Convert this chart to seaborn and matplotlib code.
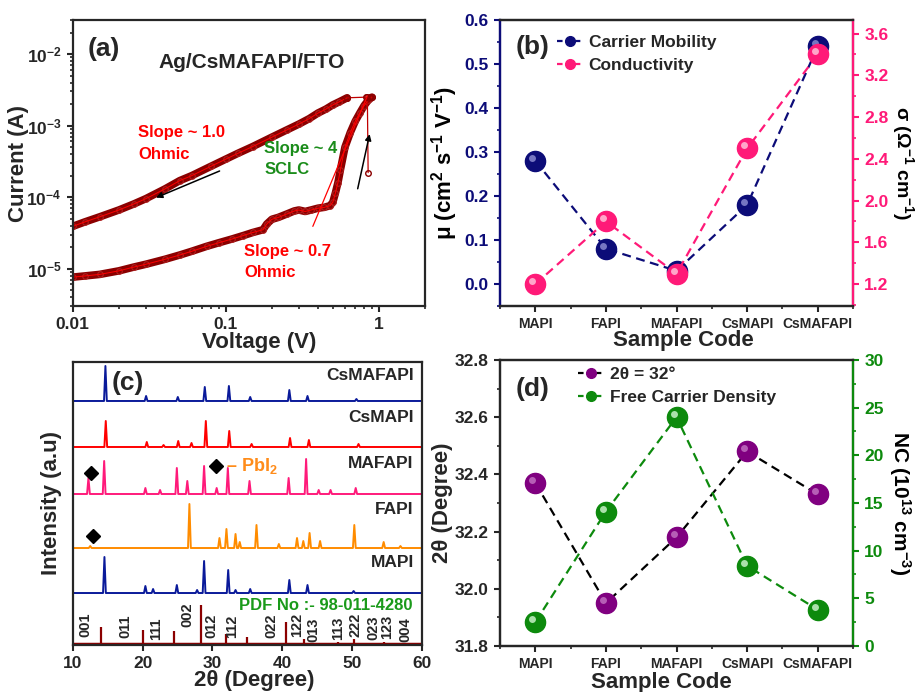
import numpy as np
import matplotlib
matplotlib.use("Agg")
import matplotlib.pyplot as plt
import matplotlib.ticker as mticker
from matplotlib.lines import Line2D
from matplotlib.transforms import offset_copy
import seaborn as sns

# ---------------- (a) I-V curve, Ag/CsMAFAPI/FTO ----------------
fwd_v = [0.01, 0.012, 0.015, 0.02, 0.025, 0.03, 0.04, 0.05, 0.06, 0.075, 0.09, 0.11,
         0.13, 0.15, 0.175, 0.185, 0.2, 0.22, 0.25, 0.28, 0.3, 0.33, 0.36, 0.4, 0.44,
         0.48, 0.5, 0.52, 0.54, 0.56, 0.6, 0.65, 0.7, 0.75, 0.8, 0.85, 0.9]
fwd_i = [7.6e-6, 7.9e-6, 8.3e-6, 9.3e-6, 1.05e-5, 1.15e-5, 1.35e-5, 1.55e-5, 1.75e-5,
         2.05e-5, 2.3e-5, 2.6e-5, 2.9e-5, 3.2e-5, 3.5e-5, 4.2e-5, 4.9e-5, 5.2e-5, 5.8e-5,
         6.4e-5, 6.6e-5, 6.3e-5, 6.6e-5, 7.0e-5, 7.2e-5, 7.6e-5, 8.5e-5, 1.15e-4, 1.6e-4,
         2.4e-4, 5.0e-4, 8.0e-4, 1.15e-3, 1.5e-3, 1.9e-3, 2.25e-3, 2.5e-3]
rev_v = [0.62, 0.55, 0.5, 0.45, 0.4, 0.35, 0.3, 0.25, 0.2, 0.15, 0.12, 0.1, 0.08, 0.06,
         0.05, 0.04, 0.03, 0.025, 0.02, 0.015, 0.012, 0.01]
rev_i = [2.45e-3, 2.15e-3, 1.95e-3, 1.7e-3, 1.5e-3, 1.25e-3, 1.05e-3, 8.7e-4, 6.9e-4,
         5.1e-4, 4.1e-4, 3.4e-4, 2.7e-4, 2.0e-4, 1.7e-4, 1.3e-4, 9.5e-5, 8.0e-5, 6.6e-5,
         5.3e-5, 4.5e-5, 3.9e-5]
start_v = [0.85, 0.84]
start_i = [2.2e-4, 2.5e-3]
top_v = [0.62, 0.82, 0.87, 0.9]
top_i = [2.45e-3, 2.5e-3, 2.5e-3, 2.5e-3]
sclc_fit_v = [0.37, 0.84]
sclc_fit_i = [3.9e-5, 2.6e-3]

# ---------------- (b) / (d) per-sample values ----------------
samples = ["MAPI", "FAPI", "MAFAPI", "CsMAPI", "CsMAFAPI"]
mobility = [0.28, 0.08, 0.03, 0.18, 0.54]
conductivity = [1.2, 1.8, 1.3, 2.5, 3.4]
two_theta = [32.37, 31.95, 32.18, 32.48, 32.33]
carrier_density = [2.5, 14.1, 24.0, 8.4, 3.8]

# ---------------- (c) XRD peaks: 2theta and height ----------------
mapi_pos = [14.54, 20.4, 21.5, 24.9, 27.8, 28.8, 32.25, 33.3, 35.4, 41.0, 43.6, 50.2]
mapi_h = [36, 7, 4, 8, 3, 32, 23, 3, 4, 13, 8, 2]
fapi_pos = [12.5, 26.7, 31.0, 32.0, 33.3, 33.9, 36.3, 39.5, 42.1, 43.0, 43.9, 45.4, 50.3, 54.5, 56.9]
fapi_h = [2, 44, 10, 19, 14, 6, 23, 4, 10, 7, 15, 7, 23, 6, 2]
mafapi_pos = [12.25, 14.5, 20.4, 22.5, 24.9, 26.4, 28.8, 30.6, 32.2, 35.3, 40.9, 43.4, 45.2, 46.9, 50.5]
mafapi_h = [16, 33, 6, 4, 26, 13, 28, 6, 26, 13, 16, 35, 4, 4, 6]
csmapi_pos = [14.73, 20.6, 23.0, 25.1, 27.0, 29.05, 32.4, 35.6, 41.1, 43.8, 50.9]
csmapi_h = [26, 5, 2, 6, 4, 26, 16, 3, 9, 7, 3]
csmafapi_pos = [14.68, 20.5, 25.04, 28.9, 32.35, 35.4, 41.0, 43.6, 50.6]
csmafapi_h = [35, 5, 4, 14, 15, 4, 11, 5, 2]
ref_pos = [14.0, 20.0, 24.5, 28.3, 31.9, 34.9, 40.5, 43.1, 45.5, 48.0, 50.2, 52.4, 54.6, 58.7]
ref_h = [18, 15, 14, 40, 11, 8, 23, 6, 2, 3, 6, 2, 3, 2]
hkl_labels = ["001", "011", "111", "002", "012", "112", "022", "122", "013", "113",
              "222", "023", "123", "004"]
hkl_pos = [11.8, 17.6, 22.0, 26.4, 29.9, 32.8, 38.5, 42.1, 44.4, 48.0, 50.4, 53.0, 55.0, 57.6]
hkl_bottom = [8, 7, 5, 18, 7, 7, 7, 8, 3, 5, 8, 5, 6, 3]
pbi2_pos = [12.6, 30.5, 12.95]
pbi2_y = [172, 179, 109]

sns.set_style("ticks")
plt.rcParams.update({
    "font.family": ["Liberation Sans", "DejaVu Sans"],
    "font.weight": "bold",
    "axes.labelweight": "bold",
    "axes.linewidth": 1.6,
    "mathtext.fontset": "custom",
    "mathtext.rm": "Liberation Sans:bold",
    "mathtext.it": "Liberation Sans:bold",
    "mathtext.bf": "Liberation Sans:bold",
    "mathtext.default": "rm",
    "xtick.direction": "out",
    "ytick.direction": "out",
})

NAVY = "#0c0c78"
PINK = "#ff1a78"
PURPLE = "#800080"
GREEN = "#0d8a0d"
DARKRED = "#8b0000"

fig = plt.figure(figsize=(9.17, 6.92), dpi=100)
ax_a = fig.add_axes([0.0793, 0.5578, 0.3842, 0.4133])
ax_b = fig.add_axes([0.5453, 0.5578, 0.3850, 0.4133])
ax_c = fig.add_axes([0.0793, 0.0679, 0.3810, 0.4090])
ax_d = fig.add_axes([0.5453, 0.0665, 0.3850, 0.4133])


def tick_style(ax, which_axis="both"):
    ax.tick_params(axis=which_axis, which="major", length=4.5, width=1.5, labelsize=12.5)
    ax.tick_params(axis=which_axis, which="minor", length=2.5, width=1.2)


def balls(ax, x, y, color, light):
    ax.plot(x, y, ls="none", marker="o", ms=14.5, color=color, mec=color, zorder=4)
    tr = offset_copy(ax.transData, fig=fig, x=-2.2, y=2.2, units="points")
    ax.plot(x, y, ls="none", marker="o", ms=5, color=light, mec="none",
            alpha=0.85, transform=tr, zorder=5)


def right_label(ax2, text, xcoord, size):
    # rotated 270 and anchored at its left edge
    ax2.set_ylabel(text, fontsize=size, rotation=270, color="black")
    ax2.yaxis.label.set_verticalalignment("bottom")
    ax2.yaxis.set_label_coords(xcoord, 0.5)


# ---------------- panel (a) ----------------
ax = ax_a
for v, i in ((fwd_v, fwd_i), (rev_v, rev_i)):
    sns.lineplot(x=v, y=i, ax=ax, color=DARKRED, lw=5.5, sort=False, estimator=None)
    ax.plot(v, i, ls="none", marker="o", ms=4, mfc="none", mec="#b02020", mew=0.8)
    ax.plot(v, i, color="red", lw=0.7)
ax.plot(start_v, start_i, color="#c00000", lw=0.9, marker="o", ms=4, mfc="none", mec=DARKRED)
ax.plot(top_v, top_i, color="#c00000", lw=0.9, marker="o", ms=4, mfc="none", mec=DARKRED)
ax.plot(sclc_fit_v, sclc_fit_i, color="red", lw=0.9)
ax.set_xscale("log")
ax.set_yscale("log")
ax.set_xlim(0.01, 2)
ax.set_ylim(3e-6, 3e-2)
ax.set_xticks([0.01, 0.1, 1])
ax.xaxis.set_major_formatter(mticker.FixedFormatter(["0.01", "0.1", "1"]))
ax.xaxis.set_minor_locator(mticker.LogLocator(subs=np.arange(2, 10)))
ax.xaxis.set_minor_formatter(mticker.NullFormatter())
ax.yaxis.set_minor_locator(mticker.LogLocator(subs=np.arange(2, 10)))
ax.yaxis.set_minor_formatter(mticker.NullFormatter())
tick_style(ax)
ax.annotate("", xy=(0.0337, 9.5e-5), xytext=(0.0946, 2.4e-4),
            arrowprops=dict(arrowstyle="-|>", color="black", lw=1.1, mutation_scale=9))
ax.annotate("", xy=(0.877, 8.3e-4), xytext=(0.72, 1.2e-4),
            arrowprops=dict(arrowstyle="-|>", color="black", lw=1.1, mutation_scale=9))
ax.text(0.042, 0.90, "(a)", transform=ax.transAxes, fontsize=19, va="center")
ax.text(0.243, 0.852, "Ag/CsMAFAPI/FTO", transform=ax.transAxes, fontsize=15, va="center")
ax.text(0.186, 0.607, "Slope ~ 1.0", transform=ax.transAxes, fontsize=12, color="red", va="center")
ax.text(0.186, 0.531, "Ohmic", transform=ax.transAxes, fontsize=12, color="red", va="center")
ax.text(0.544, 0.549, "Slope ~ 4", transform=ax.transAxes, fontsize=12, color="#1a8c1a", va="center")
ax.text(0.544, 0.478, "SCLC", transform=ax.transAxes, fontsize=12, color="#1a8c1a", va="center")
ax.text(0.486, 0.190, "Slope ~ 0.7", transform=ax.transAxes, fontsize=12, color="red", va="center")
ax.text(0.486, 0.117, "Ohmic", transform=ax.transAxes, fontsize=12, color="red", va="center")
ax.set_xlabel("Voltage (V)", fontsize=16)
ax.set_ylabel("Current (A)", fontsize=16)
ax.xaxis.set_label_coords(0.53, -0.09)
ax.yaxis.set_label_coords(-0.125, 0.5)

# ---------------- panel (b) ----------------
xpos = np.arange(len(samples))
ax = ax_b
ax2 = ax.twinx()
ax.plot(xpos, mobility, color=NAVY, ls=(0, (4, 2.5)), lw=1.6)
balls(ax, xpos, mobility, NAVY, "#8a8ad0")
ax2.plot(xpos, conductivity, color=PINK, ls=(0, (4, 2.5)), lw=1.6)
balls(ax2, xpos, conductivity, PINK, "#ffc0d8")
ax.set_xlim(-0.5, 4.5)
ax.set_ylim(-0.05, 0.6)
ax2.set_ylim(0.99, 3.73)
ax.set_xticks(xpos)
ax.set_xticklabels(samples, fontsize=10)
ax.xaxis.set_minor_locator(mticker.FixedLocator(np.arange(-0.5, 5, 1.0)))
ax.yaxis.set_major_locator(mticker.MultipleLocator(0.1))
ax.yaxis.set_minor_locator(mticker.MultipleLocator(0.05))
ax.yaxis.set_major_formatter(mticker.FormatStrFormatter("%.1f"))
ax2.yaxis.set_major_locator(mticker.MultipleLocator(0.4))
ax2.yaxis.set_minor_locator(mticker.MultipleLocator(0.2))
ax2.yaxis.set_major_formatter(mticker.FormatStrFormatter("%.1f"))
tick_style(ax)
tick_style(ax2)
ax.tick_params(axis="x", labelsize=10)
ax.tick_params(axis="y", which="both", colors=NAVY)
ax2.tick_params(axis="y", which="both", colors=PINK)
ax2.spines["left"].set_color(NAVY)
ax2.spines["right"].set_color(PINK)
ax.spines["left"].set_color(NAVY)
ax.set_xlabel("Sample Code", fontsize=16)
ax.set_ylabel("μ (cm$^{2}$ s$^{-1}$ V$^{-1}$)", fontsize=16, color="black")
right_label(ax2, "σ (Ω$^{-1}$ cm$^{-1}$)", 1.105, 14)
ax.xaxis.set_label_coords(0.52, -0.085)
ax.yaxis.set_label_coords(-0.113, 0.5)
ax.text(0.043, 0.907, "(b)", transform=ax.transAxes, fontsize=19, va="center")
handles = [Line2D([], [], color=NAVY, ls=(0, (2.5, 1.5)), marker="o", ms=7, lw=1.6),
           Line2D([], [], color=PINK, ls=(0, (2.5, 1.5)), marker="o", ms=7, lw=1.6)]
ax2.legend(handles, ["Carrier Mobility", "Conductivity"], loc="upper left",
           bbox_to_anchor=(0.16, 0.948), frameon=False, fontsize=12.5, handlelength=1.5,
           handletextpad=0.35, labelspacing=0.45, borderpad=0, borderaxespad=0)

# ---------------- panel (c) ----------------
ax = ax_c


def trace(pos, height):
    xs, ys = [10.0], [0.0]
    for p, h in sorted(zip(pos, height)):
        xs += [p - 0.2, p, p + 0.2]
        ys += [0.0, h, 0.0]
    xs.append(60.0)
    ys.append(0.0)
    return np.array(xs), np.array(ys)


xrd_sets = [("MAPI", mapi_pos, mapi_h, "#0a1a9a", 52, 83),
            ("FAPI", fapi_pos, fapi_h, "#ff8c00", 97, 135),
            ("MAFAPI", mafapi_pos, mafapi_h, "#ff1a7a", 151, 181),
            ("CsMAPI", csmapi_pos, csmapi_h, "#ff0000", 198, 227),
            ("CsMAFAPI", csmafapi_pos, csmafapi_h, "#0a1a9a", 244, 269)]
for name, pos, h, col, base, ylab in xrd_sets:
    xs, ys = trace(pos, h)
    sns.lineplot(x=xs, y=ys + base, ax=ax, color=col, lw=1.4, sort=False, estimator=None)
    ax.text(58.8, ylab, name, ha="right", va="center", fontsize=12.5)
ax.vlines(ref_pos, 0, ref_h, color=DARKRED, lw=1.6)
ax.axhline(1.0, color=DARKRED, lw=2.5)
for lab, p, b in zip(hkl_labels, hkl_pos, hkl_bottom):
    ax.text(p, b, lab, rotation=90, ha="center", va="bottom", fontsize=10.5)
ax.plot(pbi2_pos, pbi2_y, ls="none", marker="D", ms=7.5, color="black")
ax.text(31.9, 179, "– PbI$_2$", color="#ff8c1a", fontsize=13, va="center")
ax.text(58.6, 40, "PDF No :- 98-011-4280", color="#1a9a1a", fontsize=12, ha="right", va="center")
ax.text(15.6, 262, "(c)", fontsize=19, va="center")
ax.set_xlim(10, 60)
ax.set_ylim(0, 283)
ax.set_yticks([])
ax.set_xticks([10, 20, 30, 40, 50, 60])
tick_style(ax, "x")
ax.set_xlabel("2θ (Degree)", fontsize=16)
ax.set_ylabel("Intensity (a.u)", fontsize=16)
ax.xaxis.set_label_coords(0.52, -0.088)
ax.yaxis.set_label_coords(-0.031, 0.5)

# ---------------- panel (d) ----------------
ax = ax_d
ax2 = ax.twinx()
ax.plot(xpos, two_theta, color="black", ls=(0, (4, 2.5)), lw=1.6)
balls(ax, xpos, two_theta, PURPLE, "#c070c0")
ax2.plot(xpos, carrier_density, color=GREEN, ls=(0, (4, 2.5)), lw=1.6)
balls(ax2, xpos, carrier_density, GREEN, "#c8f0c8")
ax.set_xlim(-0.5, 4.5)
ax.set_ylim(31.8, 32.8)
ax2.set_ylim(0, 30)
ax.set_xticks(xpos)
ax.set_xticklabels(samples, fontsize=10)
ax.xaxis.set_minor_locator(mticker.FixedLocator(np.arange(-0.5, 5, 1.0)))
ax.yaxis.set_major_locator(mticker.MultipleLocator(0.2))
ax.yaxis.set_minor_locator(mticker.MultipleLocator(0.1))
ax.yaxis.set_major_formatter(mticker.FormatStrFormatter("%.1f"))
ax2.yaxis.set_major_locator(mticker.MultipleLocator(5))
ax2.yaxis.set_minor_locator(mticker.MultipleLocator(2.5))
tick_style(ax)
tick_style(ax2)
ax.tick_params(axis="x", labelsize=10)
ax2.tick_params(axis="y", which="both", colors=GREEN)
ax2.spines["right"].set_color(GREEN)
ax.set_xlabel("Sample Code", fontsize=16)
ax.set_ylabel("2θ (Degree)", fontsize=16)
right_label(ax2, "NC (10$^{13}$ cm$^{-3}$)", 1.095, 15)
ax.xaxis.set_label_coords(0.456, -0.09)
ax.yaxis.set_label_coords(-0.133, 0.5)
ax.text(0.043, 0.90, "(d)", transform=ax.transAxes, fontsize=19, va="center")
handles = [Line2D([], [], color="black", ls=(0, (2.5, 1.5)), marker="o", ms=7, lw=1.6,
                  mfc=PURPLE, mec=PURPLE),
           Line2D([], [], color=GREEN, ls=(0, (2.5, 1.5)), marker="o", ms=7, lw=1.6)]
ax2.legend(handles, ["2θ = 32°", "Free Carrier Density"], loc="upper left",
           bbox_to_anchor=(0.22, 0.975), frameon=False, fontsize=12.5, handlelength=1.5,
           handletextpad=0.35, labelspacing=0.45, borderpad=0, borderaxespad=0)

fig.savefig("out.png", dpi=100)
